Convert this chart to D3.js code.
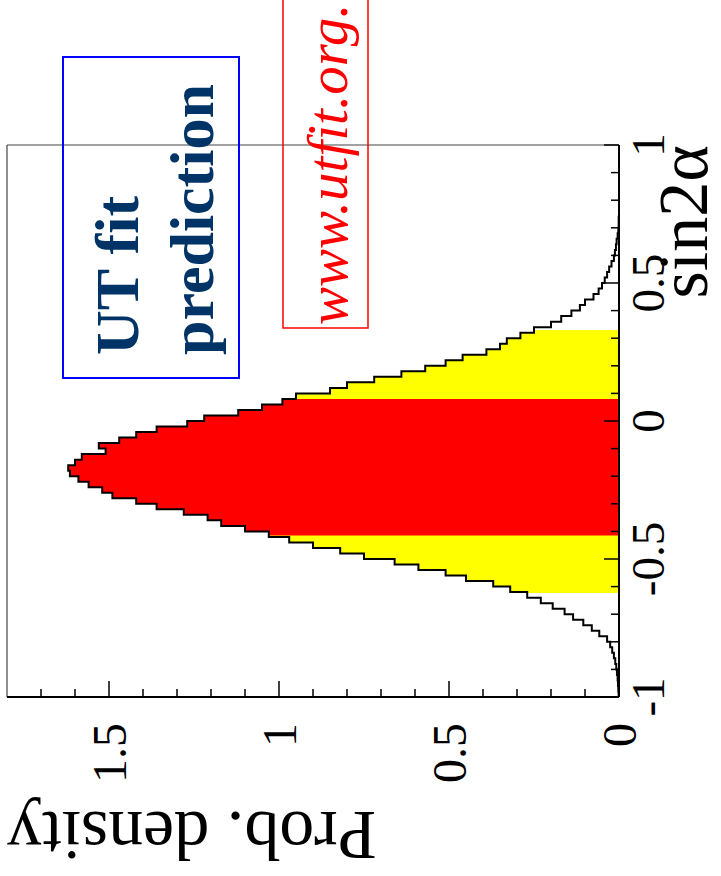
<!DOCTYPE html>
<html>
<head>
<meta charset="utf-8">
<script src="https://cdn.jsdelivr.net/npm/d3@7"></script>
<style>
  body { margin: 0; background: #fff; }
  text { font-family: "Liberation Serif", "Times New Roman", serif; }
</style>
</head>
<body>
<svg id="chart" width="721" height="876"></svg>
<script>
// histogram of sin2alpha, 100 bins between -1 and 1
var binLo = -1, binHi = 1;
var density = [
  0.001, 0.002, 0.003, 0.004, 0.006, 0.008, 0.011, 0.015, 0.020, 0.026,
  0.035, 0.058, 0.080, 0.105, 0.135, 0.160, 0.195, 0.230, 0.270, 0.320,
  0.370, 0.450, 0.510, 0.590, 0.660, 0.750, 0.820, 0.900, 0.970, 1.030,
  1.100, 1.170, 1.210, 1.280, 1.360, 1.420, 1.490, 1.520, 1.560, 1.590,
  1.615, 1.620, 1.600, 1.580, 1.510, 1.530, 1.470, 1.420, 1.360, 1.270,
  1.220, 1.120, 1.050, 0.990, 0.950, 0.850, 0.800, 0.720, 0.640, 0.570,
  0.510, 0.460, 0.390, 0.350, 0.330, 0.290, 0.250, 0.200, 0.170, 0.140,
  0.115, 0.100, 0.075, 0.060, 0.050, 0.042, 0.035, 0.029, 0.022, 0.015,
  0.012, 0.009, 0.007, 0.004, 0.002, 0.001, 0.001, 0, 0, 0,
  0, 0, 0, 0, 0, 0, 0, 0, 0, 0
];
var band95 = [-0.623, 0.33];   // yellow
var band68 = [-0.415, 0.08];   // red
var xTicks = [-1, -0.5, 0, 0.5, 1];
var yTicks = [0, 0.5, 1, 1.5];

var svg = d3.select("#chart");
// the whole ROOT canvas is turned 90 deg counter-clockwise
var g = svg.append("g").attr("transform", "translate(0,876) rotate(-90)");

var x = d3.scaleLinear().domain([-1, 1]).range([179, 731]);
var y = d3.scaleLinear().domain([0, 1.8]).range([619, 7]);

var bw = (binHi - binLo) / density.length;
var steps = [];
density.forEach(function(v, i) {
  steps.push([binLo + i * bw, v]);
  steps.push([binLo + (i + 1) * bw, v]);
});

var defs = svg.append("defs");
function band(id, lim) {
  defs.append("clipPath").attr("id", id).append("rect")
    .attr("x", x(lim[0])).attr("width", x(lim[1]) - x(lim[0]))
    .attr("y", y(1.8)).attr("height", y(0) - y(1.8));
}
band("c95", band95);
band("c68", band68);

var area = d3.area()
  .x(function(d) { return x(d[0]); })
  .y0(y(0))
  .y1(function(d) { return y(d[1]); });

g.append("path").datum(steps).attr("d", area)
  .attr("fill", "#ffff00").attr("clip-path", "url(#c95)");
g.append("path").datum(steps).attr("d", area)
  .attr("fill", "#ff0000").attr("clip-path", "url(#c68)");

var line = d3.line()
  .x(function(d) { return x(d[0]); })
  .y(function(d) { return y(d[1]); });
g.append("path").datum(steps).attr("d", line)
  .attr("fill", "none").attr("stroke", "#000").attr("stroke-width", 2);

// frame (thin sides)
g.append("line").attr("x1", x(-1)).attr("x2", x(1)).attr("y1", y(1.8)).attr("y2", y(1.8))
  .attr("stroke", "#444").attr("stroke-width", 1.2);
g.append("line").attr("x1", x(1)).attr("x2", x(1)).attr("y1", y(1.8)).attr("y2", y(0))
  .attr("stroke", "#444").attr("stroke-width", 1.2);

// x axis
var xMinor = d3.range(-10, 11).map(function(i) { return i / 10; });
g.selectAll(".xmin").data(xMinor).enter().append("line")
  .attr("x1", function(d) { return x(d); }).attr("x2", function(d) { return x(d); })
  .attr("y1", y(0)).attr("y2", function(d) { return xTicks.indexOf(d) >= 0 ? y(0) - 15 : y(0) - 8; })
  .attr("stroke", "#000").attr("stroke-width", 1.5);
g.append("line").attr("x1", x(-1)).attr("x2", x(1)).attr("y1", y(0)).attr("y2", y(0))
  .attr("stroke", "#000").attr("stroke-width", 2);
g.selectAll(".xlab").data(xTicks).enter().append("text")
  .attr("x", function(d) { return x(d); }).attr("y", 664)
  .attr("text-anchor", "middle").attr("font-size", 47)
  .text(function(d) { return String(d); });
g.append("text").attr("x", x(1)).attr("y", 707)
  .attr("text-anchor", "end").attr("font-size", 70).text("sin2α");

// y axis
var yMinor = d3.range(0, 18).map(function(i) { return i / 10; });
g.selectAll(".ymin").data(yMinor).enter().append("line")
  .attr("y1", function(d) { return y(d); }).attr("y2", function(d) { return y(d); })
  .attr("x1", x(-1)).attr("x2", function(d) { return yTicks.indexOf(d) >= 0 ? x(-1) + 16 : x(-1) + 8; })
  .attr("stroke", "#000").attr("stroke-width", 1.5);
g.append("line").attr("x1", x(-1)).attr("x2", x(-1)).attr("y1", y(0)).attr("y2", y(1.8))
  .attr("stroke", "#000").attr("stroke-width", 2);
g.selectAll(".ylab").data(yTicks).enter().append("text")
  .attr("x", 153).attr("y", function(d) { return y(d); })
  .attr("dy", "0.35em")
  .attr("text-anchor", "end").attr("font-size", 48)
  .text(function(d) { return String(d); });
g.append("text").attr("transform", "translate(64," + y(1.8) + ") rotate(-90)")
  .attr("text-anchor", "end").attr("font-size", 70).text("Prob. density");

// boxes
g.append("rect").attr("x", 498).attr("y", 63).attr("width", 321).attr("height", 176)
  .attr("fill", "none").attr("stroke", "#0000ff").attr("stroke-width", 2);
g.append("text").attr("x", 521).attr("y", 138).attr("font-size", 62)
  .attr("font-weight", "bold").attr("fill", "#003366").text("UT fit");
g.append("text").attr("x", 521).attr("y", 213).attr("font-size", 62)
  .attr("font-weight", "bold").attr("fill", "#003366").text("prediction");

g.append("rect").attr("x", 548).attr("y", 283).attr("width", 332).attr("height", 85)
  .attr("fill", "none").attr("stroke", "#ff0000").attr("stroke-width", 1.5);
g.append("text").attr("x", 551).attr("y", 347).attr("font-size", 57)
  .attr("font-style", "italic").attr("fill", "#ff0000").text("www.utfit.org.");
</script>
</body>
</html>
